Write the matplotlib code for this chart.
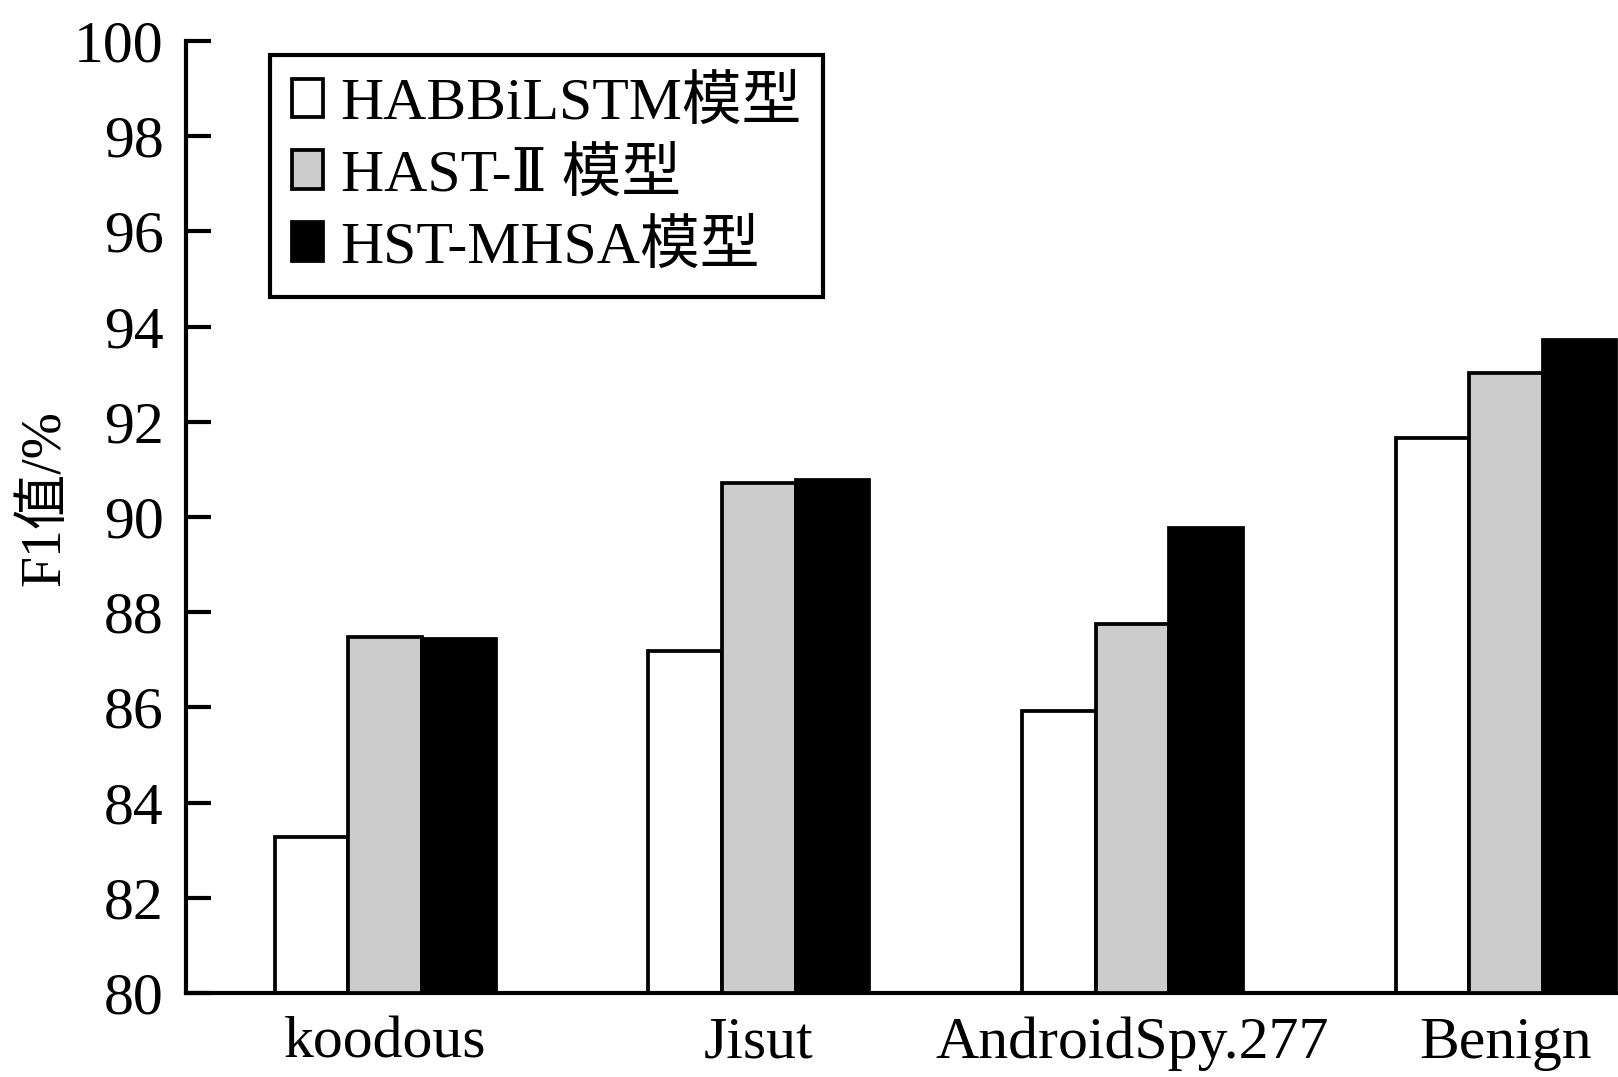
import matplotlib
matplotlib.use("Agg")
import matplotlib.pyplot as plt
import numpy as np

categories = ["koodous", "Jisut", "AndroidSpy.277", "Benign"]
series_names = ["HABBiLSTM模型", "HAST-Ⅱ 模型", "HST-MHSA模型"]
habbilstm = [83.28, 87.18, 85.93, 91.66]
hast2 = [87.47, 90.72, 87.75, 93.02]
hstmhsa = [87.44, 90.78, 89.77, 93.71]
yticks = [80, 82, 84, 86, 88, 90, 92, 94, 96, 98, 100]

fam = ["Liberation Serif", "DejaVu Serif", "Noto Sans CJK SC", "DejaVu Sans"]
plt.rcParams["font.family"] = fam

fig = plt.figure(figsize=(16.18, 10.77), dpi=100)
ax = fig.add_axes([186/1618, 1 - 993/1077, 1 - 186/1618, (993 - 41)/1077])

x = np.arange(len(categories))
w = 0.197
colors = ["white", "#cccccc", "black"]
for i, (vals, c, name) in enumerate(zip([habbilstm, hast2, hstmhsa], colors, series_names)):
    ax.bar(x + (i - 1) * w, np.array(vals) - 80, bottom=80, width=w, color=c,
           edgecolor="black", linewidth=2.7, label=name, zorder=2 + i)

ax.set_xlim(-0.533, 0.3 + 3)
ax.set_ylim(80, 100)
ax.set_yticks(yticks)
ax.set_yticklabels([str(t) for t in yticks], fontsize=43)
ax.set_xticks(x)
ax.set_xticklabels(categories, fontsize=43)
ax.tick_params(axis="y", direction="in", length=18, width=3, pad=16)
ax.tick_params(axis="x", length=0, pad=17)
for s in ["top", "right"]:
    ax.spines[s].set_visible(False)
for s in ["left", "bottom"]:
    ax.spines[s].set_linewidth(3)
ax.set_ylabel("F1值/%", fontsize=40)
ax.yaxis.set_label_coords(-0.08, 0.52)

leg = ax.legend(loc="upper left", bbox_to_anchor=(0.0587, 0.985), fontsize=43,
                frameon=True, fancybox=False, edgecolor="black", framealpha=1,
                handlelength=0.52, handleheight=0.62, handletextpad=0.3,
                labelspacing=0.28, borderpad=0.36, borderaxespad=0)
leg.get_frame().set_linewidth(3)
for p in leg.get_patches():
    p.set_linewidth(2.7)

fig.savefig("out.png", dpi=100)
